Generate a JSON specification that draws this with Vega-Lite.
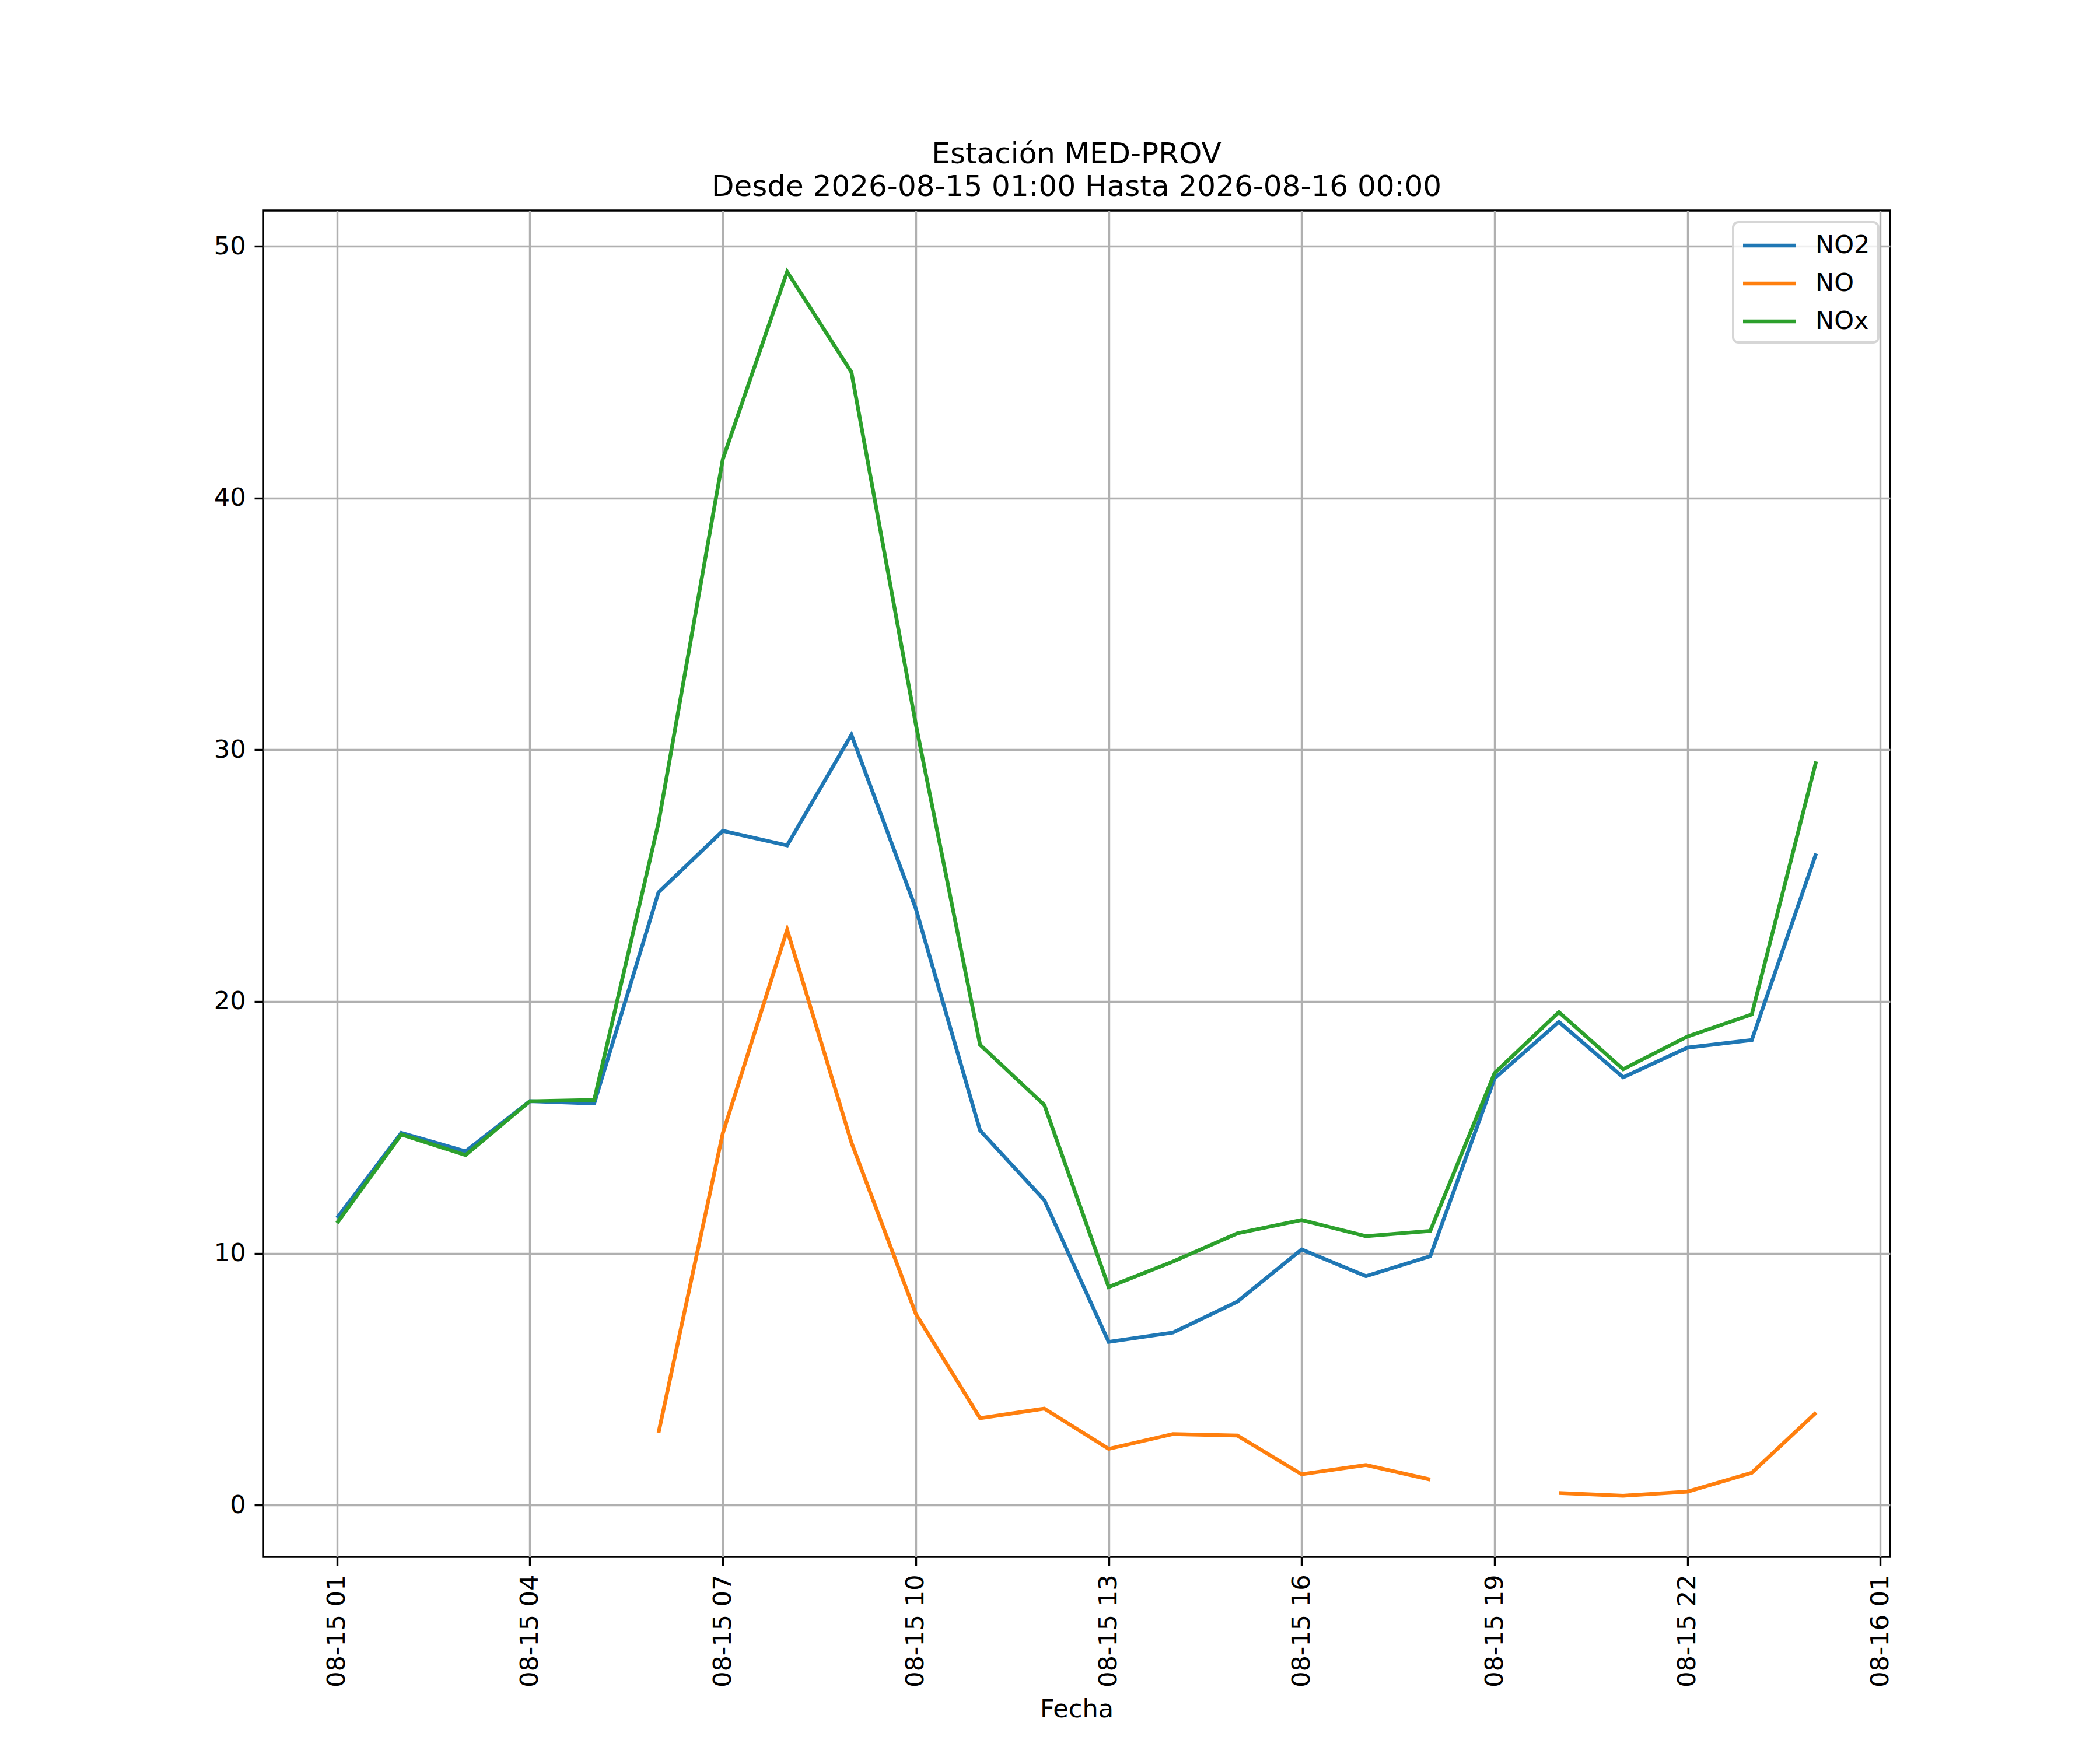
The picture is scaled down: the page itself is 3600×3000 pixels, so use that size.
{
  "$schema": "https://vega.github.io/schema/vega-lite/v6.json",
  "width": 2789,
  "height": 2308,
  "autosize": "none",
  "padding": {"left": 451, "top": 361, "right": 360, "bottom": 331},
  "background": "white",
  "title": {
    "text": ["Estación MED-PROV", "Desde 2026-08-15 01:00 Hasta 2026-08-16 00:00"],
    "font": "DejaVu Sans",
    "fontSize": 50,
    "fontWeight": "normal",
    "lineHeight": 56,
    "offset": 15,
    "anchor": "middle",
    "color": "black"
  },
  "data": {
    "values": [
      {"fecha": "2026-08-15 01:00", "NO2": 11.4, "NO": null, "NOx": 11.2},
      {"fecha": "2026-08-15 02:00", "NO2": 14.78, "NO": null, "NOx": 14.72},
      {"fecha": "2026-08-15 03:00", "NO2": 14.05, "NO": null, "NOx": 13.9},
      {"fecha": "2026-08-15 04:00", "NO2": 16.04, "NO": null, "NOx": 16.04},
      {"fecha": "2026-08-15 05:00", "NO2": 15.95, "NO": null, "NOx": 16.09},
      {"fecha": "2026-08-15 06:00", "NO2": 24.34, "NO": 2.87, "NOx": 27.1},
      {"fecha": "2026-08-15 07:00", "NO2": 26.78, "NO": 14.77, "NOx": 41.55},
      {"fecha": "2026-08-15 08:00", "NO2": 26.2, "NO": 22.85, "NOx": 48.99},
      {"fecha": "2026-08-15 09:00", "NO2": 30.6, "NO": 14.4, "NOx": 45.0},
      {"fecha": "2026-08-15 10:00", "NO2": 23.7, "NO": 7.6, "NOx": 31.03},
      {"fecha": "2026-08-15 11:00", "NO2": 14.88, "NO": 3.45, "NOx": 18.28},
      {"fecha": "2026-08-15 12:00", "NO2": 12.11, "NO": 3.83, "NOx": 15.89},
      {"fecha": "2026-08-15 13:00", "NO2": 6.48, "NO": 2.23, "NOx": 8.66},
      {"fecha": "2026-08-15 14:00", "NO2": 6.85, "NO": 2.82, "NOx": 9.67},
      {"fecha": "2026-08-15 15:00", "NO2": 8.08, "NO": 2.76, "NOx": 10.79},
      {"fecha": "2026-08-15 16:00", "NO2": 10.15, "NO": 1.22, "NOx": 11.32},
      {"fecha": "2026-08-15 17:00", "NO2": 9.09, "NO": 1.59, "NOx": 10.68},
      {"fecha": "2026-08-15 18:00", "NO2": 9.88, "NO": 1.01, "NOx": 10.89},
      {"fecha": "2026-08-15 19:00", "NO2": 16.95, "NO": null, "NOx": 17.16},
      {"fecha": "2026-08-15 20:00", "NO2": 19.19, "NO": 0.48, "NOx": 19.58},
      {"fecha": "2026-08-15 21:00", "NO2": 16.99, "NO": 0.37, "NOx": 17.31},
      {"fecha": "2026-08-15 22:00", "NO2": 18.17, "NO": 0.53, "NOx": 18.61},
      {"fecha": "2026-08-15 23:00", "NO2": 18.47, "NO": 1.28, "NOx": 19.49},
      {"fecha": "2026-08-16 00:00", "NO2": 25.88, "NO": 3.67, "NOx": 29.54}
    ],
    "format": {"parse": {"fecha": "date:'%Y-%m-%d %H:%M'"}}
  },
  "transform": [{"fold": ["NO2", "NO", "NOx"], "as": ["contaminante", "valor"]}],
  "mark": {"type": "line", "strokeWidth": 6.5, "invalid": "break-paths-filter-domains"},
  "encoding": {
    "x": {
      "field": "fecha",
      "type": "temporal",
      "title": "Fecha",
      "scale": {
        "domain": [
          {"year": 2026, "month": 8, "date": 14, "hours": 23, "minutes": 51},
          {"year": 2026, "month": 8, "date": 16, "hours": 1, "minutes": 9}
        ]
      },
      "axis": {
        "values": [
          {"year": 2026, "month": 8, "date": 15, "hours": 1},
          {"year": 2026, "month": 8, "date": 15, "hours": 4},
          {"year": 2026, "month": 8, "date": 15, "hours": 7},
          {"year": 2026, "month": 8, "date": 15, "hours": 10},
          {"year": 2026, "month": 8, "date": 15, "hours": 13},
          {"year": 2026, "month": 8, "date": 15, "hours": 16},
          {"year": 2026, "month": 8, "date": 15, "hours": 19},
          {"year": 2026, "month": 8, "date": 15, "hours": 22},
          {"year": 2026, "month": 8, "date": 16, "hours": 1}
        ],
        "format": "%m-%d %H",
        "labelAngle": 270,
        "labelLimit": 0,
        "titlePadding": 40
      }
    },
    "y": {
      "field": "valor",
      "type": "quantitative",
      "title": null,
      "scale": {"domain": [-2.06, 51.42], "nice": false, "zero": false},
      "axis": {"values": [0, 10, 20, 30, 40, 50]}
    },
    "color": {
      "field": "contaminante",
      "type": "nominal",
      "scale": {"domain": ["NO2", "NO", "NOx"], "range": ["#1f77b4", "#ff7f0e", "#2ca02c"]},
      "legend": {
        "title": null,
        "orient": "top-right",
        "offset": 20,
        "symbolType": "M-2,0L2,0",
        "symbolSize": 2025,
        "symbolStrokeWidth": 6.5,
        "symbolOffset": 22,
        "labelOffset": 53,
        "rowPadding": 17,
        "padding": 14,
        "strokeColor": "#d6d6d6",
        "fillColor": "rgba(255,255,255,0.8)",
        "cornerRadius": 9
      }
    }
  },
  "config": {
    "font": "DejaVu Sans",
    "view": {"stroke": "black", "strokeWidth": 3.4},
    "axis": {
      "labelFont": "DejaVu Sans",
      "labelFontSize": 43,
      "labelColor": "black",
      "labelPadding": 15,
      "labelOverlap": false,
      "labelFlush": false,
      "titleFont": "DejaVu Sans",
      "titleFontSize": 43,
      "titleFontWeight": "normal",
      "titleColor": "black",
      "domain": false,
      "grid": true,
      "gridColor": "#b0b0b0",
      "gridWidth": 3.4,
      "tickColor": "black",
      "tickWidth": 3.4,
      "tickSize": 15
    },
    "legend": {
      "labelFont": "DejaVu Sans",
      "labelFontSize": 43,
      "labelColor": "black",
      "strokeWidth": 4
    }
  }
}
